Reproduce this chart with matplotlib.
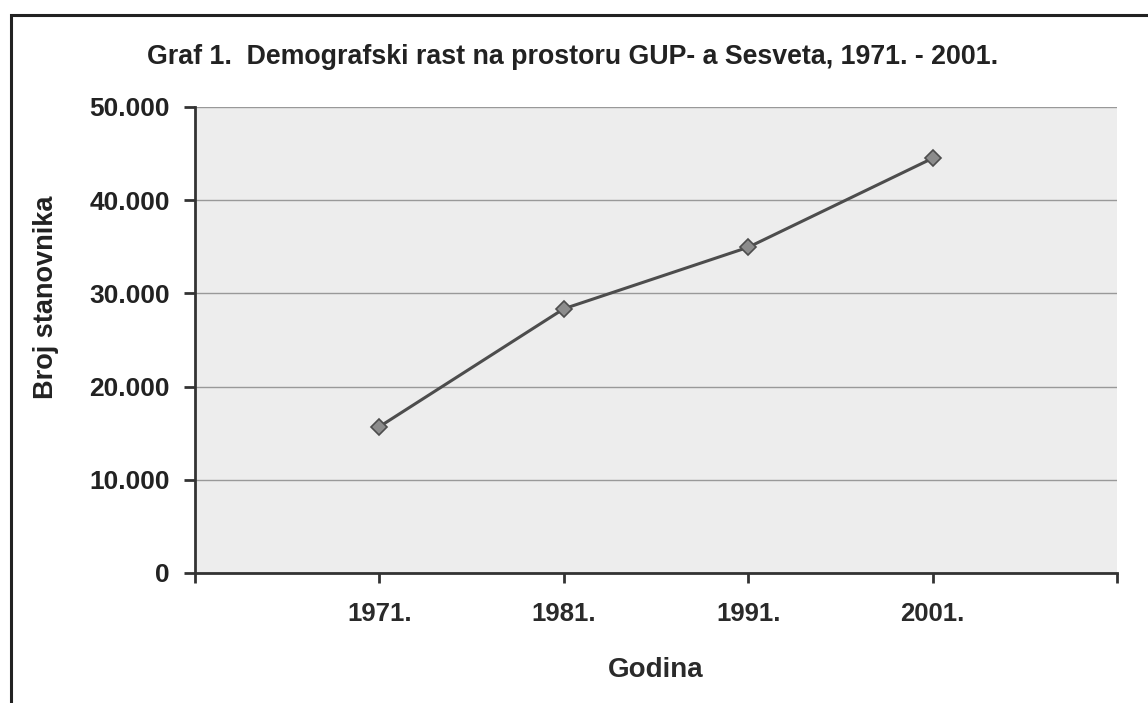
import matplotlib
matplotlib.use('Agg')
import matplotlib.pyplot as plt
from matplotlib.patches import Rectangle

# Data
years = ['1971.', '1981.', '1991.', '2001.']
population = [15700, 28350, 34950, 44500]
y_ticks = [0, 10000, 20000, 30000, 40000, 50000]
y_labels = ['0', '10.000', '20.000', '30.000', '40.000', '50.000']

plt.rcParams['font.family'] = ['Liberation Sans', 'DejaVu Sans']

fig = plt.figure(figsize=(11.48, 7.03), dpi=100)
fig.patch.set_facecolor('white')

# Outer frame (clipped on right and bottom like the scan)
fig.patches.append(Rectangle((11 / 1148, -0.05), 1.2, (703 - 15) / 703 + 0.05,
                             transform=fig.transFigure, fill=False,
                             edgecolor='#222222', linewidth=2.2))

ax = fig.add_axes([195 / 1148, (703 - 573) / 703, 922 / 1148, 466 / 703])
ax.set_facecolor('#ededed')

x = list(range(1, len(years) + 1))
ax.plot(x, population, color='#4d4d4d', linewidth=2.2, marker='D',
        markersize=8, markerfacecolor='#8c8c8c', markeredgecolor='#4d4d4d',
        markeredgewidth=1.2, zorder=3)

ax.set_xlim(0, len(years) + 1)
ax.set_ylim(0, 50000)

ax.set_yticks(y_ticks)
ax.set_yticklabels(y_labels, fontsize=19, fontweight='bold', color='#222222')
ax.set_xticks(range(len(years) + 2))
ax.set_xticklabels([''] + years + [''], fontsize=18.5, fontweight='bold', color='#2a2a2a')

ax.grid(axis='y', color='#999999', linewidth=1.0)
ax.set_axisbelow(True)

for s in ['top', 'right']:
    ax.spines[s].set_visible(False)
for s in ['left', 'bottom']:
    ax.spines[s].set_color('#333333')
    ax.spines[s].set_linewidth(2.0)

ax.tick_params(axis='y', direction='out', length=8, width=2, color='#333333', pad=10)
ax.tick_params(axis='x', direction='out', length=7, width=2, color='#333333', pad=14)

ax.set_ylabel('Broj stanovnika', fontsize=19.5, fontweight='bold', color='#222222')
ax.yaxis.set_label_coords(-0.1475, (573 - 297) / 466)
ax.set_xlabel('Godina', fontsize=20, fontweight='bold', color='#2a2a2a', labelpad=22)

fig.text(573 / 1148, 1 - 57 / 703,
         'Graf 1.  Demografski rast na prostoru GUP- a Sesveta, 1971. - 2001.',
         ha='center', va='center', fontsize=19.3, fontweight='bold', color='#222222')

fig.savefig('out.png', dpi=100)
